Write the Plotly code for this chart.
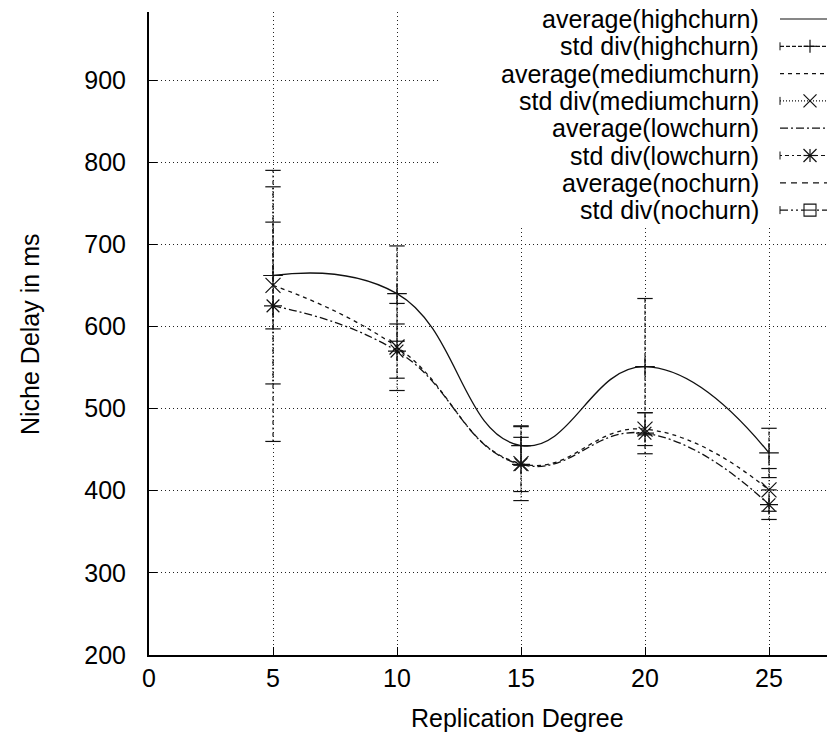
import plotly.graph_objects as go

# ---------------- data ----------------
x_deg = [5, 10, 15, 20, 25]
avg_high = [662, 640, 455, 551, 446]
std_high = [65, 58, 24, 83, 30]
avg_medium = [650, 575, 433, 475, 401]
std_medium = [120, 53, 45, 20, 26]
avg_low = [625, 570, 432, 470, 383]
std_low = [165, 33, 33, 25, 18]

legend_labels = [
    "average(highchurn)", "std div(highchurn)",
    "average(mediumchurn)", "std div(mediumchurn)",
    "average(lowchurn)", "std div(lowchurn)",
    "average(nochurn)", "std div(nochurn)",
]
x_ticks = [0, 5, 10, 15, 20, 25]
y_ticks = [200, 300, 400, 500, 600, 700, 800, 900]

# ---------------- layout geometry (pixels) ----------------
W, H = 827, 738
L, R, T, B = 149, 827, 12, 655
FONT = "Liberation Sans, Arial, Helvetica, sans-serif"
FS = 25
INK = "#111111"


def px(x):
    return (x - L) / (R - L)


def py(y):
    return 1 - (y - T) / (B - T)


fig = go.Figure()


def bar_segments(xs, avg, sd):
    sx, sy = [], []
    for xi, a, s in zip(xs, avg, sd):
        sx += [xi, xi, None]
        sy += [a - s, a + s, None]
    return sx, sy


def caps(xs, avg, sd):
    cx, cy = [], []
    for xi, a, s in zip(xs, avg, sd):
        cx += [xi, xi]
        cy += [a - s, a + s]
    return cx, cy


series = [
    (avg_high, std_high, "solid", "4px,2px", "cross-thin", 14),
    (avg_medium, std_medium, "4px,4px", "1px,2px", "x-thin", 15),
    (avg_low, std_low, "8px,3px,2px,3px", "2px,3px,4px,3px", "asterisk", 15),
]

for avg, sd, avg_dash, sd_dash, sym, msz in series:
    fig.add_trace(go.Scatter(
        x=x_deg, y=avg, mode="lines",
        line=dict(color=INK, width=1.3, dash=avg_dash, shape="spline", smoothing=1.3),
        showlegend=False, hoverinfo="skip"))
    sx, sy = bar_segments(x_deg, avg, sd)
    fig.add_trace(go.Scatter(
        x=sx, y=sy, mode="lines",
        line=dict(color=INK, width=1.2, dash=sd_dash),
        showlegend=False, hoverinfo="skip"))
    cx, cy = caps(x_deg, avg, sd)
    fig.add_trace(go.Scatter(
        x=cx, y=cy, mode="markers",
        marker=dict(symbol="line-ew", size=11, line=dict(color=INK, width=1.2)),
        showlegend=False, hoverinfo="skip"))
    fig.add_trace(go.Scatter(
        x=x_deg, y=avg, mode="markers",
        marker=dict(symbol=sym, size=msz, color=INK, line=dict(color=INK, width=1.2)),
        showlegend=False, hoverinfo="skip"))

# ---------------- custom gnuplot-style key ----------------
shapes = [dict(type="rect", xref="paper", yref="paper",
               x0=px(440), x1=1.2, y0=py(226), y1=1.2,
               fillcolor="white", line=dict(width=0), layer="above")]
annotations = []
key_dashes = ["solid", "4px,2px", "4px,4px", "1px,2px",
              "8px,3px,2px,3px", "2px,3px,4px,3px", "6px,5px", "8px,3px,2px,3px,2px,3px"]
key_syms = [None, "plus", None, "x", None, "star", None, "boxminus"]
row0, dy = 19, 27.3


def seg(x0, y0, x1, y1, w=1.2, dash="solid"):
    return dict(type="line", xref="paper", yref="paper",
                x0=px(x0), x1=px(x1), y0=py(y0), y1=py(y1),
                line=dict(color=INK, width=w, dash=dash), layer="above")


for i, lab in enumerate(legend_labels):
    yy = row0 + i * dy
    annotations.append(dict(text=lab, xref="paper", yref="paper", x=px(761), y=py(yy),
                            xanchor="right", yanchor="middle", showarrow=False,
                            font=dict(family=FONT, size=FS, color="black")))
    shapes.append(seg(780, yy, 845, yy, dash=key_dashes[i]))
    s = key_syms[i]
    if s is not None:
        shapes.append(seg(780, yy - 4, 780, yy + 4, w=1))
        cx, r = 810, 6.5
        if s == "plus":
            shapes += [seg(cx - r, yy, cx + r, yy), seg(cx, yy - r, cx, yy + r)]
        elif s == "x":
            shapes += [seg(cx - r, yy - r, cx + r, yy + r), seg(cx - r, yy + r, cx + r, yy - r)]
        elif s == "star":
            shapes += [seg(cx - r, yy, cx + r, yy), seg(cx, yy - r, cx, yy + r),
                       seg(cx - r, yy - r, cx + r, yy + r), seg(cx - r, yy + r, cx + r, yy - r)]
        elif s == "boxminus":
            shapes.append(dict(type="rect", xref="paper", yref="paper",
                               x0=px(cx - 6), x1=px(cx + 6), y0=py(yy - 6), y1=py(yy + 6),
                               fillcolor="white", line=dict(color=INK, width=1.1), layer="above"))
            shapes.append(seg(cx - 6, yy, cx + 6, yy, w=1.1))

# axis titles
annotations.append(dict(text="Replication Degree", xref="paper", yref="paper",
                        x=px(517), y=py(718), xanchor="center", yanchor="middle",
                        showarrow=False, font=dict(family=FONT, size=FS, color="black")))
annotations.append(dict(text="Niche Delay in ms", xref="paper", yref="paper",
                        x=px(30), y=py(335), xanchor="center", yanchor="middle",
                        textangle=-90, showarrow=False,
                        font=dict(family=FONT, size=FS, color="black")))

axis_common = dict(
    showline=True, linecolor="black", linewidth=2,
    ticks="inside", ticklen=8, tickwidth=1, tickcolor="black",
    showgrid=True, gridcolor="#222222", gridwidth=1, griddash="1px,3px",
    zeroline=False, tickfont=dict(family=FONT, size=FS, color="black"),
)

fig.update_layout(
    width=W, height=H,
    margin=dict(l=L, r=W - R, t=T, b=H - B, pad=0),
    paper_bgcolor="white", plot_bgcolor="white",
    showlegend=False,
    xaxis=dict(range=[0, (R - L) / 24.8], tickvals=x_ticks, **axis_common),
    yaxis=dict(range=[200, 200 + (B - T) / 0.8214], tickvals=y_ticks,
               ticklabelstandoff=16, **axis_common),
    shapes=shapes, annotations=annotations,
)

fig.write_html("out.html")
